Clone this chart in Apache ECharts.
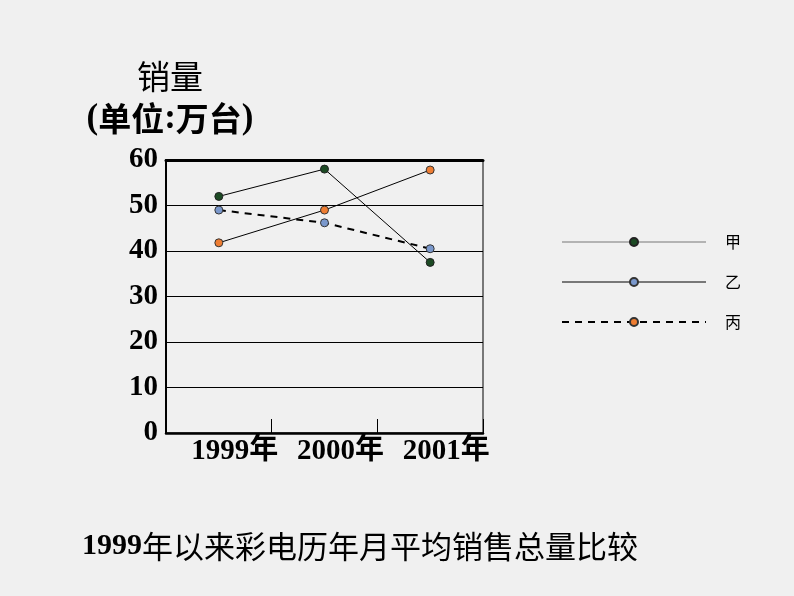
<!DOCTYPE html>
<html>
<head>
<meta charset="utf-8">
<script src="https://cdn.jsdelivr.net/npm/echarts@6/dist/echarts.min.js"></script>
<style>html,body{margin:0;padding:0;background:#f0f0f0}#c{width:794px;height:596px}</style>
</head>
<body>
<div id="c"></div>
<script>
var categories = ['1999年', '2000年', '2001年'];
var seriesNames = ['甲', '乙', '丙'];
var jiaValues = [52, 58, 37.5];
var yiValues = [49, 46.2, 40.5];
var bingValues = [41.8, 49, 57.8];
var yTicks = [0, 10, 20, 30, 40, 50, 60];

var serif = "'Liberation Serif','Noto Sans CJK SC',serif";
var chart = echarts.init(document.getElementById('c'));
chart.setOption({
  backgroundColor: '#f0f0f0',
  animation: false,
  title: [
    { text: '销量', left: 165, top: 55, textAlign: 'center',
      textStyle: { fontFamily: "'Noto Sans CJK SC'", fontSize: 33, fontWeight: 'normal', color: '#000' } },
    { text: '{b|(}{c|单位}{b|:}{c|万台}{b|)}', left: 165, top: 96, textAlign: 'center',
      textStyle: { rich: {
        b: { fontFamily: serif, fontSize: 35, fontWeight: 'bold', color: '#000' },
        c: { fontFamily: "'Noto Sans CJK SC'", fontSize: 33, color: '#000' } } } },
    { text: '{n|1999}{c|年以来彩电历年月平均销售总量比较}', left: 77, top: 526,
      textStyle: { rich: {
        n: { fontFamily: serif, fontSize: 30, fontWeight: 'bold', color: '#000' },
        c: { fontFamily: "'Noto Sans CJK SC'", fontSize: 31, fontWeight: 'normal', color: '#000' } } } }
  ],
  legend: {
    orient: 'vertical', left: 556, top: 229, itemWidth: 144, itemHeight: 10, itemGap: 24,
    textStyle: { fontFamily: "'Noto Sans CJK SC'", fontSize: 16, color: '#000', padding: [0, 0, 0, 14] },
    data: [
      { name: seriesNames[0], lineStyle: { color: '#777', width: 1, type: 'solid' } },
      { name: seriesNames[1], lineStyle: { color: '#000', width: 1, type: 'solid' } },
      { name: seriesNames[2], lineStyle: { color: '#000', width: 2, type: [7, 6] } }
    ]
  },
  grid: { left: 166, right: 311, top: 160, bottom: 163, show: true, borderColor: '#000', borderWidth: 1, containLabel: false },
  xAxis: [
    { type: 'category', data: categories, boundaryGap: true,
      axisLine: { lineStyle: { color: '#000', width: 2.5 } },
      axisTick: { show: true, inside: true, length: 14, interval: 0, alignWithLabel: false, lineStyle: { color: '#000', width: 1 } },
      axisLabel: { interval: 0, margin: 4, padding: [0, 0, 0, 32], fontFamily: serif, fontSize: 29, fontWeight: 'bold', color: '#000' } },
    { type: 'category', data: categories, position: 'top',
      axisLine: { lineStyle: { color: '#000', width: 3 } },
      axisTick: { show: false }, axisLabel: { show: false } }
  ],
  yAxis: {
    type: 'value', min: yTicks[0], max: yTicks[yTicks.length - 1], interval: 10,
    axisLine: { show: true, lineStyle: { color: '#000', width: 2 } },
    axisTick: { show: false },
    splitLine: { lineStyle: { color: '#000', width: 1 } },
    axisLabel: { margin: 8, fontFamily: serif, fontSize: 29, fontWeight: 'bold', color: '#000' }
  },
  series: [
    { name: seriesNames[0], type: 'line', data: jiaValues, symbol: 'circle', symbolSize: 8,
      itemStyle: { color: '#1c4a24', borderColor: '#222', borderWidth: 1 },
      lineStyle: { color: '#000', width: 1 } },
    { name: seriesNames[1], type: 'line', data: yiValues, symbol: 'circle', symbolSize: 8,
      itemStyle: { color: '#7a98cc', borderColor: '#333', borderWidth: 1 },
      lineStyle: { color: '#000', width: 2, type: [7, 6] } },
    { name: seriesNames[2], type: 'line', data: bingValues, symbol: 'circle', symbolSize: 8,
      itemStyle: { color: '#ee7d32', borderColor: '#333', borderWidth: 1 },
      lineStyle: { color: '#000', width: 1 } }
  ]
});
</script>
</body>
</html>
